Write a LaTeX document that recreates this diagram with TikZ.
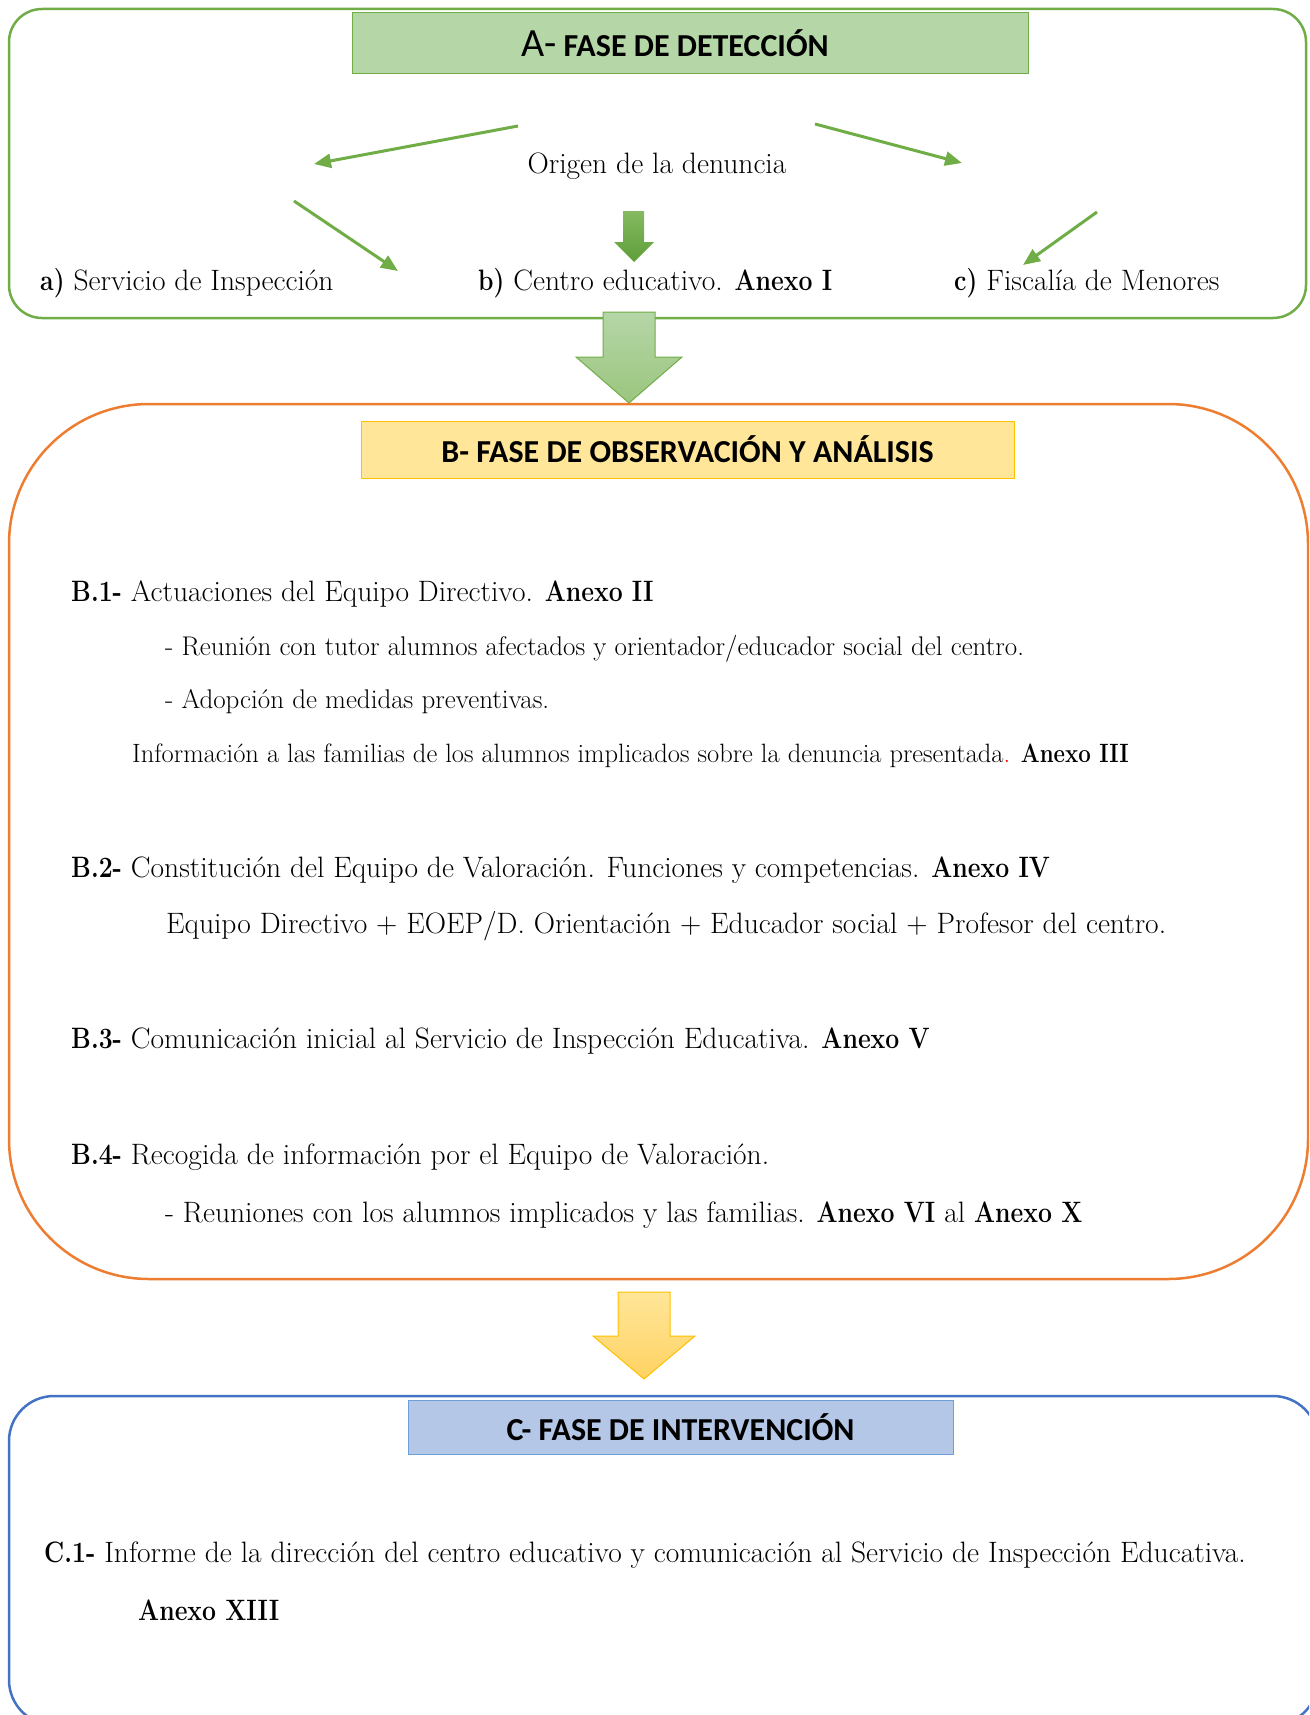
\documentclass[tikz,border=0pt]{standalone}
\usepackage{fontspec}
\usepackage{graphicx}
\newfontfamily\headfont{Carlito}
\usetikzlibrary{arrows.meta}

\definecolor{grnline}{HTML}{70AD47}
\definecolor{grnfill}{HTML}{B5D6A7}
\definecolor{grndark}{HTML}{5E9E38}
\definecolor{orgline}{HTML}{ED7D31}
\definecolor{ylwfill}{HTML}{FFE699}
\definecolor{ylwdark}{HTML}{FFD262}
\definecolor{ylwline}{HTML}{FFC000}
\definecolor{bluline}{HTML}{4472C4}
\definecolor{blufill}{HTML}{B4C7E7}
\definecolor{bluhead}{HTML}{6F9FD8}

\newcommand{\bodysize}{\fontsize{29.5}{35}\selectfont}
\newcommand{\smallsize}{\fontsize{27}{32}\selectfont}
\newcommand{\infosize}{\fontsize{26.5}{31}\selectfont}
\newcommand{\headsize}{\fontsize{32}{38}\selectfont}
% narrower bold
\newcommand{\bx}[1]{\scalebox{0.84}[1]{\bfseries #1}}

\tikzset{
  phase/.style={line width=2.5pt, rounded corners=#1},
  header/.style={line width=1pt, inner sep=0pt, font=\headfont\headsize\bfseries},
  txt/.style={anchor=base west, inner sep=0pt, font=\bodysize},
  subtxt/.style={anchor=base west, inner sep=0pt, font=\smallsize},
  thinarrow/.style={grnline, line width=3pt, -{Triangle[length=17pt,width=14pt]}}
}

\begin{document}
\begin{tikzpicture}[x=1pt,y=-1pt]
  \useasboundingbox (0,0) rectangle (1309,1715);
  \clip (0,0) rectangle (1309,1715);

  % A
  \draw[phase=33pt, grnline] (9,9) rectangle (1306,318);
  \node[header, draw=grnline, fill=grnfill, minimum width=676pt, minimum height=61pt]
    (headA) at (690,43.5) {{\mdseries\fontsize{40}{46}\selectfont A-} FASE DE DETECCIÓN\hspace*{30pt}};

  \node[anchor=base, inner sep=0pt, font=\bodysize] (origen) at (657,174) {Origen de la denuncia};
  \node[txt] (srvA) at (40,290) {\bx{a)} Servicio de Inspección};
  \node[txt] (srvB) at (478,290) {\bx{b)} Centro educativo. \bx{Anexo I}};
  \node[txt] (srvC) at (954,290) {\bx{c)} Fiscalía de Menores};

  \coordinate (l1) at (518,126);  \coordinate (l2) at (314,164);
  \coordinate (r1) at (815,124);  \coordinate (r2) at (962,163);
  \coordinate (dl1) at (294,201); \coordinate (dl2) at (398,271);
  \coordinate (dr1) at (1097,212); \coordinate (dr2) at (1023,265);
  \draw[thinarrow] (l1) -- (l2);
  \draw[thinarrow] (r1) -- (r2);
  \draw[thinarrow] (dl1) -- (dl2);
  \draw[thinarrow] (dr1) -- (dr2);

  \shade[top color=grnline!85, bottom color=grndark]
    (623,211) -- (644,211) -- (644,242) -- (654,242) -- (634,262) -- (614,242) -- (623,242) -- cycle;

  \shade[top color=grnfill, bottom color=grnline!70, draw=grnline, line width=1pt]
    (603,312) -- (655,312) -- (655,357) -- (682,357) -- (629,403) -- (576,357) -- (603,357) -- cycle;

  % B
  \draw[phase=140pt, orgline] (9,404) rectangle (1308,1279);
  \node[header, draw=ylwline, fill=ylwfill, minimum width=653pt, minimum height=57pt]
    (headB) at (687.5,449.5) {B- FASE DE OBSERVACIÓN Y ANÁLISIS};

  \node[txt] (b1) at (71,601) {\bx{B.1-} Actuaciones del Equipo Directivo. \bx{Anexo II}};
  \node[subtxt] (b1a) at (165,655) {- Reunión con tutor alumnos afectados y orientador/educador social del centro.};
  \node[subtxt] (b1b) at (165,708) {- Adopción de medidas preventivas.};
  \node[subtxt, font=\infosize] (b1c) at (132,762) {Información a las familias de los alumnos implicados sobre la denuncia presentada{\color{red}.} \bx{Anexo III}};
  \node[txt] (b2) at (71,877) {\bx{B.2-} Constitución del Equipo de Valoración. Funciones y competencias. \bx{Anexo IV}};
  \node[txt] (b2a) at (166,933) {Equipo Directivo + EOEP/D. Orientación + Educador social + Profesor del centro.};
  \node[txt] (b3) at (71,1048) {\bx{B.3-} Comunicación inicial al Servicio de Inspección Educativa. \bx{Anexo V}};
  \node[txt] (b4) at (71,1164) {\bx{B.4-} Recogida de información por el Equipo de Valoración.};
  \node[txt] (b4a) at (165,1222) {- Reuniones con los alumnos implicados y las familias. \bx{Anexo VI} al \bx{Anexo X}};

  \shade[top color=ylwfill, bottom color=ylwdark, draw=ylwline, line width=1pt]
    (618,1292) -- (670,1292) -- (670,1336) -- (695,1336) -- (644,1379) -- (593,1336) -- (618,1336) -- cycle;

  % C
  \draw[phase=45pt, bluline] (9,1396) rectangle (1318,1725);
  \node[header, draw=bluhead, fill=blufill, minimum width=545pt, minimum height=54pt]
    (headC) at (680.5,1427) {C- FASE DE INTERVENCIÓN};

  \node[txt] (c1) at (44,1562) {\bx{C.1-} Informe de la dirección del centro educativo y comunicación al Servicio de Inspección Educativa.};
  \node[txt] (c1a) at (138,1620) {\bx{Anexo XIII}};
\end{tikzpicture}
\end{document}
